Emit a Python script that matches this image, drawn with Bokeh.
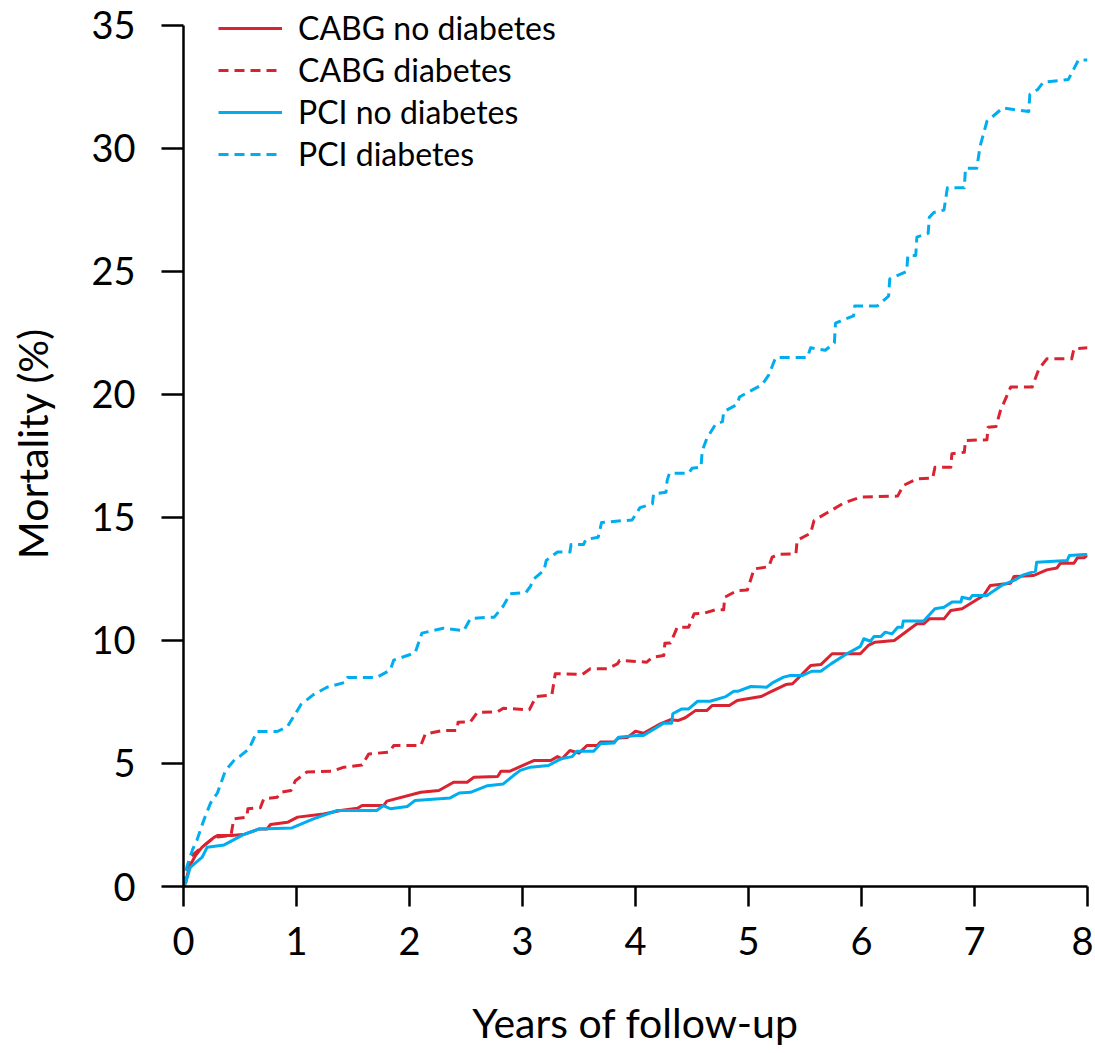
from bokeh.plotting import figure
from bokeh.models import Range1d, FixedTicker, Legend, LegendItem
from bokeh.embed import file_html
from bokeh.resources import INLINE

# ---- data (years, mortality %) ----
cabg_nodm = [(0,0),(0.02,0.17),(0.05,0.78),(0.106,1.26),(0.165,1.6),(0.27,2.0),(0.30,2.07),(0.42,2.07),
    (0.53,2.11),(0.67,2.34),(0.74,2.34),(0.77,2.52),(0.92,2.61),(1.01,2.82),(1.24,2.95),(1.39,3.09),
    (1.54,3.18),(1.58,3.29),(1.77,3.29),(1.80,3.47),(2.10,3.83),(2.26,3.9),(2.39,4.24),(2.51,4.24),
    (2.57,4.44),(2.78,4.47),(2.81,4.69),(2.89,4.69),(3.10,5.12),(3.25,5.12),(3.31,5.28),(3.35,5.19),
    (3.42,5.53),(3.50,5.42),(3.57,5.73),(3.66,5.73),(3.69,5.87),(3.81,5.87),(3.85,6.04),(3.93,6.06),
    (4.00,6.31),(4.07,6.23),(4.22,6.61),(4.31,6.78),(4.38,6.75),(4.44,6.86),(4.53,7.15),(4.63,7.15),
    (4.68,7.36),(4.83,7.36),(4.90,7.56),(5.11,7.72),(5.19,7.9),(5.33,8.21),(5.39,8.24),(5.55,8.98),
    (5.64,9.02),(5.74,9.46),(5.99,9.46),(6.06,9.8),(6.12,9.93),(6.29,10.0),(6.49,10.68),(6.55,10.68),
    (6.60,10.88),(6.73,10.88),(6.79,11.22),(6.89,11.29),(7.08,11.83),(7.14,12.24),(7.32,12.33),
    (7.35,12.6),(7.52,12.64),(7.64,12.87),(7.73,12.95),(7.76,13.14),(7.88,13.14),(7.91,13.36),
    (7.97,13.36),(8.0,13.46)]

cabg_dm = [(0,0),(0.02,0.3),(0.06,1.2),(0.165,1.6),(0.27,2.0),(0.42,2.07),(0.445,2.75),(0.56,2.82),
    (0.57,3.16),(0.68,3.2),(0.71,3.56),(0.83,3.63),(0.86,3.83),(0.95,3.9),(0.99,4.3),(1.09,4.65),
    (1.32,4.69),(1.42,4.85),(1.58,4.94),(1.64,5.39),(1.82,5.46),(1.86,5.73),(2.10,5.73),(2.14,6.2),
    (2.29,6.34),(2.42,6.34),(2.43,6.68),(2.54,6.7),(2.60,7.08),(2.78,7.1),(2.83,7.25),(3.06,7.18),
    (3.12,7.72),(3.26,7.79),(3.29,8.65),(3.53,8.62),(3.60,8.85),(3.75,8.85),(3.84,9.05),(3.86,9.19),
    (4.10,9.12),(4.15,9.32),(4.25,9.39),(4.26,9.89),(4.31,9.9),(4.37,10.54),(4.47,10.54),(4.52,11.09),
    (4.60,11.1),(4.71,11.25),(4.78,11.25),(4.79,11.76),(4.90,12.03),(4.99,12.05),(5.05,12.91),
    (5.18,13.0),(5.21,13.39),(5.27,13.5),(5.42,13.52),(5.43,14.07),(5.55,14.36),(5.58,14.88),
    (5.70,15.2),(5.84,15.58),(5.99,15.83),(6.32,15.87),(6.37,16.3),(6.49,16.57),(6.63,16.6),
    (6.65,17.04),(6.79,17.04),(6.80,17.59),(6.91,17.65),(6.92,18.13),(7.11,18.16),(7.12,18.67),
    (7.19,18.7),(7.23,19.35),(7.32,20.3),(7.51,20.3),(7.57,21.04),(7.64,21.45),(7.86,21.45),
    (7.88,21.86),(8.0,21.9)]

pci_nodm = [(0,0),(0.02,0.17),(0.06,0.78),(0.165,1.19),(0.21,1.6),(0.36,1.69),(0.53,2.11),(0.67,2.34),
    (0.96,2.38),(1.15,2.75),(1.36,3.09),(1.71,3.09),(1.77,3.29),(1.83,3.16),(1.98,3.25),(2.05,3.5),
    (2.36,3.6),(2.44,3.8),(2.54,3.83),(2.69,4.1),(2.83,4.17),(2.92,4.51),(2.98,4.72),(3.07,4.85),
    (3.23,4.92),(3.34,5.19),(3.44,5.28),(3.48,5.5),(3.63,5.5),(3.69,5.8),(3.81,5.83),(3.85,6.07),
    (4.01,6.14),(4.07,6.14),(4.25,6.64),(4.32,6.64),(4.33,7.02),(4.41,7.22),(4.47,7.22),(4.55,7.53),
    (4.66,7.53),(4.80,7.72),(4.87,7.94),(4.91,7.94),(5.02,8.13),(5.16,8.1),(5.22,8.3),(5.31,8.51),
    (5.37,8.58),(5.48,8.58),(5.56,8.75),(5.64,8.75),(5.73,9.05),(5.87,9.46),(5.99,9.76),(6.02,10.07),
    (6.08,9.97),(6.11,10.16),(6.17,10.16),(6.21,10.34),(6.27,10.27),(6.32,10.54),(6.36,10.54),
    (6.37,10.79),(6.55,10.79),(6.65,11.29),(6.73,11.35),(6.80,11.56),(6.88,11.56),(6.89,11.76),
    (6.96,11.69),(6.98,11.83),(7.11,11.83),(7.24,12.24),(7.35,12.44),(7.44,12.68),(7.54,12.82),
    (7.55,13.18),(7.82,13.25),(7.84,13.46),(7.97,13.5),(8.0,13.5)]

pci_dm = [(0,0),(0.03,0.8),(0.08,1.5),(0.12,1.9),(0.18,2.7),(0.24,3.4),(0.30,3.8),(0.37,4.7),(0.46,5.2),
    (0.50,5.3),(0.58,5.6),(0.65,6.3),(0.83,6.3),(0.92,6.5),(1.04,7.4),(1.15,7.8),(1.27,8.1),(1.43,8.3),
    (1.45,8.5),(1.71,8.5),(1.83,8.8),(1.86,9.2),(2.05,9.5),(2.11,10.3),(2.30,10.5),(2.48,10.4),
    (2.54,10.9),(2.75,10.95),(2.83,11.4),(2.89,11.9),(3.03,11.95),(3.07,12.2),(3.10,12.5),(3.19,12.85),
    (3.21,13.25),(3.31,13.6),(3.42,13.6),(3.43,13.9),(3.54,13.9),(3.56,14.1),(3.67,14.2),(3.70,14.8),
    (3.97,14.9),(4.04,15.4),(4.15,15.56),(4.16,15.96),(4.27,16.03),(4.28,16.5),(4.30,16.8),(4.47,16.8),
    (4.50,17.0),(4.58,17.05),(4.59,17.7),(4.63,18.2),(4.71,18.8),(4.77,18.9),(4.78,19.3),(4.90,19.6),
    (4.92,19.9),(4.96,20.0),(5.12,20.4),(5.18,20.8),(5.24,21.5),(5.52,21.5),(5.55,21.9),(5.68,21.8),
    (5.76,22.1),(5.77,22.9),(5.93,23.2),(5.94,23.6),(6.14,23.6),(6.24,24.0),(6.25,24.7),(6.40,25.0),
    (6.41,25.65),(6.48,25.65),(6.49,26.4),(6.59,26.55),(6.60,27.2),(6.64,27.4),(6.73,27.5),(6.76,28.4),
    (6.91,28.4),(6.92,29.2),(7.02,29.2),(7.05,30.1),(7.11,31.1),(7.25,31.65),(7.48,31.5),(7.49,32.2),
    (7.56,32.4),(7.61,32.7),(7.83,32.8),(7.92,33.6),(8.0,33.6)]

series_labels = ["CABG no diabetes", "CABG diabetes", "PCI no diabetes", "PCI diabetes"]
x_ticks = [0, 1, 2, 3, 4, 5, 6, 7, 8]
y_ticks = [0, 5, 10, 15, 20, 25, 30, 35]
x_title = "Years of follow-up"
y_title = "Mortality (%)"

RED = "#DA2330"
BLUE = "#00AEEF"
FONT = "Lato"

# frame starts at the very top so the legend (which sits partly above the 35 line) is not clipped
p = figure(width=1093, height=1052, output_backend="svg", toolbar_location=None,
           x_range=Range1d(0, 8), y_range=Range1d(0, 36.016),
           min_border_left=183, min_border_right=6, min_border_top=0, min_border_bottom=166)
p.outline_line_color = None
p.xgrid.visible = False
p.ygrid.visible = False
p.background_fill_color = "white"

styles = [(cabg_nodm, RED, "solid"), (cabg_dm, RED, "10 6"),
          (pci_nodm, BLUE, "solid"), (pci_dm, BLUE, "10 6")]
items = []
for (data, col, dash), lab in zip(styles, series_labels):
    xs = [d[0] for d in data]
    ys = [d[1] for d in data]
    r = p.line(xs, ys, line_color=col, line_width=3, line_dash=dash, line_join="round")
    items.append(LegendItem(label=lab, renderers=[r]))

legend = Legend(items=items, location=(35, 713))
legend.label_text_font = FONT
legend.label_text_font_size = "32px"
legend.label_text_color = "black"
legend.glyph_width = 64
legend.glyph_height = 20
legend.label_height = 20
legend.spacing = 3
legend.padding = 0
legend.margin = 0
legend.label_standoff = 16
legend.border_line_color = None
legend.background_fill_alpha = 0
p.add_layout(legend, "center")

for ax, ticks, out, title in [(p.xaxis[0], x_ticks, 20, x_title), (p.yaxis[0], y_ticks, 22, y_title)]:
    ax.ticker = FixedTicker(ticks=ticks)
    ax.minor_tick_line_color = None
    ax.major_tick_in = 0
    ax.major_tick_out = out
    ax.axis_line_width = 2.5
    ax.major_tick_line_width = 2.5
    ax.axis_line_color = "black"
    ax.major_tick_line_color = "black"
    ax.major_label_text_font = FONT
    ax.major_label_text_font_size = "38px"
    ax.major_label_text_color = "black"
    ax.axis_label = title
    ax.axis_label_text_font = FONT
    ax.axis_label_text_font_size = "41px"
    ax.axis_label_text_font_style = "normal"
    ax.axis_label_text_color = "black"

p.yaxis.bounds = (0, 35)
p.xaxis.major_label_standoff = 20
p.xaxis.axis_label_standoff = 40
p.yaxis.major_label_standoff = 26
p.yaxis.axis_label_standoff = 31

open("out.html", "w").write(file_html(p, INLINE))
